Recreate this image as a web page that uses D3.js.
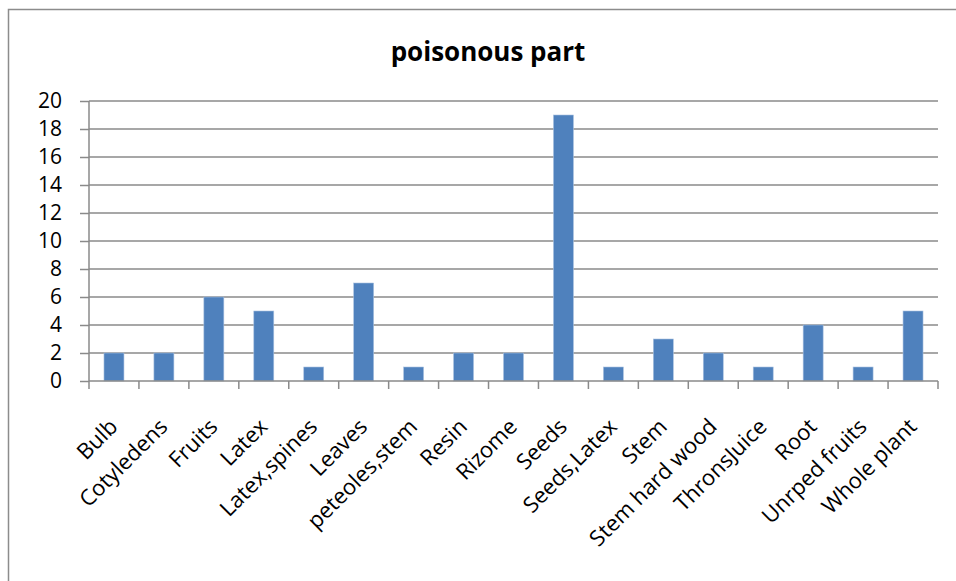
<!DOCTYPE html>
<html>
<head>
<meta charset="utf-8">
<script src="https://cdn.jsdelivr.net/npm/d3@7"></script>
<style>
  body { margin: 0; background: #fff; }
  svg { display: block; }
</style>
</head>
<body>
<svg id="chart" width="956" height="581"></svg>
<script>
const categories = ["Bulb", "Cotyledens", "Fruits", "Latex", "Latex,spines", "Leaves", "peteoles,stem",
  "Resin", "Rizome", "Seeds", "Seeds,Latex", "Stem", "Stem hard wood", "ThronsJuice", "Root",
  "Unrped fruits", "Whole plant"];
const values = [2, 2, 6, 5, 1, 7, 1, 2, 2, 19, 1, 3, 2, 1, 4, 1, 5];
const yTicks = [0, 2, 4, 6, 8, 10, 12, 14, 16, 18, 20];
const title = "poisonous part";

const width = 956, height = 581;
const margin = { top: 101, right: 18, bottom: 200, left: 89 };
const font = "'Open Sans', 'Noto Sans', sans-serif";

const svg = d3.select("#chart");

// chart area frame
svg.append("rect")
  .attr("x", 8.5).attr("y", 9.5)
  .attr("width", 1000).attr("height", 1000)
  .attr("fill", "#fff")
  .attr("stroke", "#8c8c8c")
  .attr("stroke-width", 1.5);

const x = d3.scaleBand(categories, [margin.left, width - margin.right]).paddingInner(0.6).paddingOuter(0.3);
const xTicks = d3.scaleBand(categories, [margin.left, width - margin.right]);
const y = d3.scaleLinear([0, 20], [381, margin.top]);

// gridlines
svg.append("g")
  .selectAll("line")
  .data(yTicks.filter(d => d > 0))
  .join("line")
    .attr("x1", margin.left).attr("x2", width - margin.right)
    .attr("y1", d => y(d)).attr("y2", d => y(d))
    .attr("stroke", "#8a8a8a")
    .attr("stroke-width", 1.5);

// bars
svg.append("g")
  .selectAll("rect")
  .data(values)
  .join("rect")
    .attr("x", (d, i) => x(categories[i]))
    .attr("y", d => y(d))
    .attr("width", x.bandwidth())
    .attr("height", d => y(0) - y(d))
    .attr("fill", "#4f81bd")
    .attr("stroke", "#a9c1e0")
    .attr("stroke-width", 0.6);

// y axis
const yAxis = svg.append("g")
  .attr("transform", `translate(${margin.left},0)`)
  .call(d3.axisLeft(y).tickValues(yTicks).tickSize(9).tickPadding(18));
yAxis.selectAll("line, path").attr("stroke", "#8a8a8a").attr("stroke-width", 1.5);
yAxis.select(".domain").attr("d", `M0,${y(0)}V${margin.top}`);
yAxis.selectAll("text")
  .attr("font-family", font)
  .attr("font-size", 21)
  .attr("fill", "#000");

// x axis
const xAxis = svg.append("g")
  .attr("transform", `translate(0,${y(0)})`)
  .call(d3.axisBottom(xTicks).tickSize(0).tickFormat(""));
xAxis.selectAll("path").attr("stroke", "#8a8a8a").attr("stroke-width", 1.5);
xAxis.select(".domain").attr("d", `M${margin.left},0H${width - margin.right}`);
svg.append("g")
  .selectAll("line")
  .data(categories.concat(["end"]))
  .join("line")
    .attr("x1", (d, i) => margin.left + i * xTicks.step())
    .attr("x2", (d, i) => margin.left + i * xTicks.step())
    .attr("y1", y(0)).attr("y2", y(0) + 8)
    .attr("stroke", "#8a8a8a")
    .attr("stroke-width", 1.5);

svg.append("g")
  .selectAll("text")
  .data(categories)
  .join("text")
    .attr("transform", d => `translate(${xTicks(d) + xTicks.bandwidth() / 2 + 5},${y(0) + 47}) rotate(-45)`)
    .attr("text-anchor", "end")
    .attr("font-family", font)
    .attr("font-size", 22)
    .attr("fill", "#000")
    .text(d => d);

// title
svg.append("text")
  .attr("x", 488).attr("y", 61)
  .attr("text-anchor", "middle")
  .attr("font-family", font)
  .attr("font-weight", "bold")
  .attr("font-size", 26)
  .attr("fill", "#000")
  .text(title);
</script>
</body>
</html>
